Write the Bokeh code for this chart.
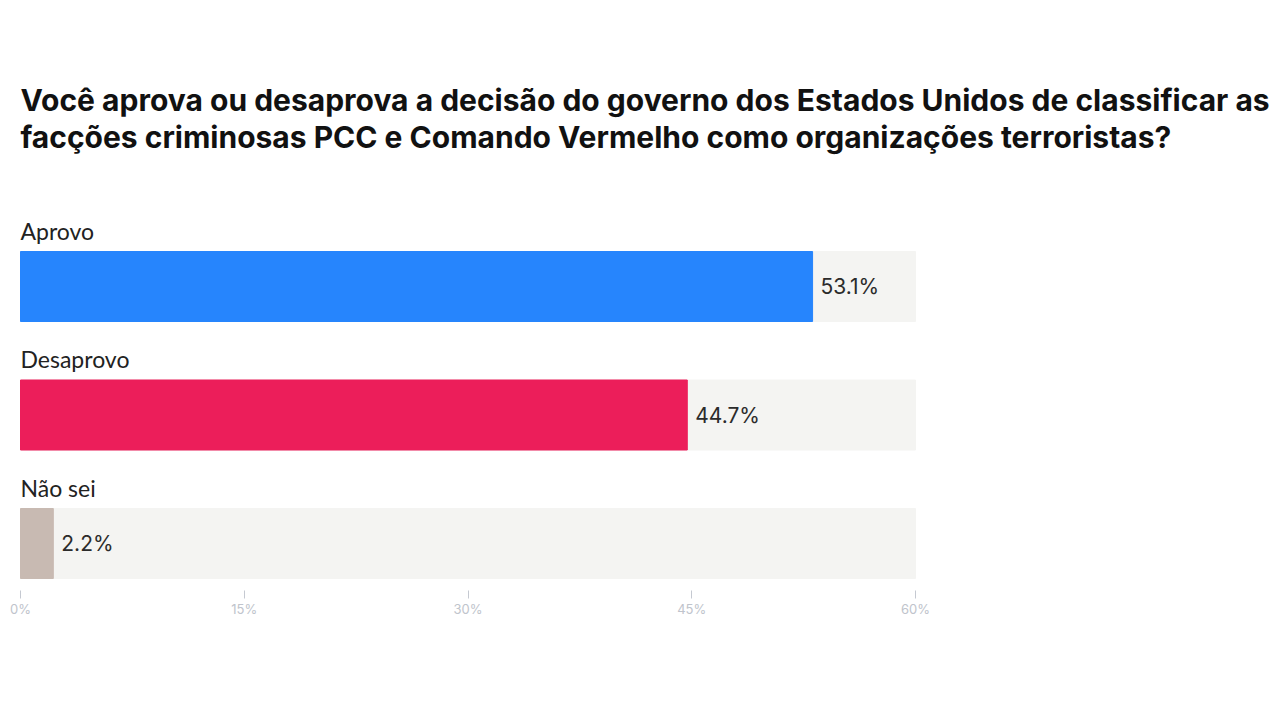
from bokeh.plotting import figure
from bokeh.models import Range1d, FixedTicker, ColumnDataSource
from bokeh.core.properties import value
from bokeh.embed import file_html
from bokeh.resources import INLINE

categories = ["Aprovo", "Desaprovo", "Não sei"]
values = [53.1, 44.7, 2.2]
colors = ["#2685fd", "#ec1e5a", "#c8bab2"]
tick_values = [0, 15, 30, 45, 60]
tick_labels = ["0%", "15%", "30%", "45%", "60%"]
axis_max = 60
title_lines = [
    "Você aprova ou desaprova a decisão do governo dos Estados Unidos de classificar as",
    "facções criminosas PCC e Comando Vermelho como organizações terroristas?",
]

W, H = 1280, 720
left_px, right_px = 20, 915
frame_bottom = 590
scale = (right_px - left_px) / axis_max
x0 = -left_px / scale
x1 = (W - left_px) / scale

p = figure(width=W, height=H, output_backend="svg", toolbar_location=None,
           x_range=Range1d(x0, x1), y_range=Range1d(frame_bottom, 0),
           min_border_left=0, min_border_right=0, min_border_top=0,
           min_border_bottom=H - frame_bottom)
p.outline_line_color = None
p.grid.visible = False
p.yaxis.visible = False
p.background_fill_color = "white"
p.border_fill_color = "white"

bar_centers = [286 + i * 128.5 for i in range(len(categories))]
bar_h = 70

src = ColumnDataSource(dict(
    y=bar_centers,
    v=values,
    full=[axis_max] * len(values),
    color=colors,
    cat=categories,
    lab=[f"{v:.1f}%" for v in values],
    label_y=[c - bar_h / 2 - 21 for c in bar_centers],
    text_x=[v + 8 / scale for v in values],
))

p.hbar(y="y", left=0, right="full", height=bar_h, color="#f4f4f2", source=src)
p.hbar(y="y", left=0, right="v", height=bar_h, color="color", source=src)

p.text(x=0, y="label_y", text="cat", source=src, text_font=value("Lato"),
       text_font_size="23px", text_color="#222222", text_baseline="middle",
       text_align="left")
p.text(x="text_x", y="y", text="lab", source=src, text_font=value("Inter"),
       text_font_size="21px", text_color="#2b2b2b", text_baseline="middle",
       text_align="left")

p.text(x=[0, 0], y=[99, 136], text=title_lines, text_font=value("Inter"),
       text_font_style="bold", text_font_size="30px", text_color="#111111",
       text_baseline="middle", text_align="left")

ax = p.xaxis[0]
ax.ticker = FixedTicker(ticks=tick_values)
ax.major_label_overrides = {t: l for t, l in zip(tick_values, tick_labels)}
ax.axis_line_color = None
ax.minor_tick_line_color = None
ax.major_tick_out = 8
ax.major_tick_in = 0
ax.major_tick_line_color = "#c5c9d1"
ax.major_label_text_color = "#c0c4cc"
ax.major_label_text_font = "Inter"
ax.major_label_text_font_size = "13px"
ax.major_label_standoff = 2

open("out.html", "w").write(file_html(p, INLINE))
